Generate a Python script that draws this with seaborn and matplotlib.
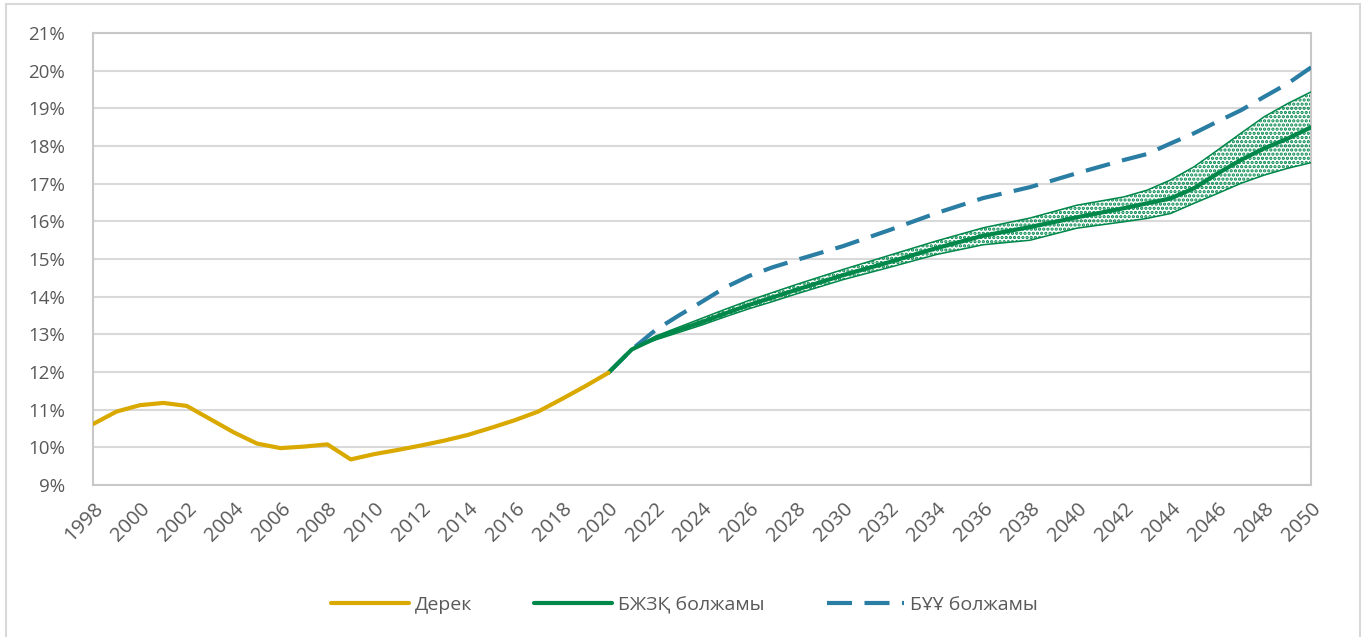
import pandas as pd
import matplotlib.pyplot as plt
import matplotlib.patches as mpatches
import seaborn as sns
from matplotlib.ticker import FuncFormatter

# Colours
COLORS = {
    'fact': '#DAA900',
    'fund': '#00874A',
    'un': '#2A7DA3',
    'grid': '#D9D9D9',
    'text': '#595959',
}

# Historical data (Дерек)
fact_years = list(range(1998, 2021))
fact_vals = [10.62, 10.95, 11.12, 11.18, 11.10, 10.75, 10.40, 10.10, 9.98, 10.02,
             10.08, 9.68, 9.82, 9.93, 10.05, 10.18, 10.33, 10.52, 10.72, 10.95,
             11.28, 11.62, 11.98]

# Forecasts
fc_years = [2020, 2021, 2022, 2023, 2024, 2025, 2026, 2027, 2028, 2030, 2032, 2034, 2036,
            2038, 2040, 2042, 2043, 2044, 2045, 2046, 2047, 2048, 2049, 2050]
fund_mid = [11.98, 12.60, 12.90, 13.12, 13.33, 13.56, 13.78, 13.98, 14.18, 14.57, 14.92,
            15.29, 15.62, 15.85, 16.11, 16.35, 16.48, 16.61, 16.88, 17.27, 17.63, 17.94,
            18.20, 18.50]
fund_hi = [11.98, 12.60, 12.95, 13.19, 13.43, 13.67, 13.90, 14.11, 14.32, 14.72, 15.10,
           15.48, 15.83, 16.09, 16.43, 16.65, 16.83, 17.10, 17.45, 17.89, 18.34, 18.78,
           19.13, 19.44]
fund_lo = [11.98, 12.60, 12.85, 13.05, 13.25, 13.47, 13.68, 13.87, 14.07, 14.45, 14.78,
           15.12, 15.38, 15.50, 15.82, 15.99, 16.08, 16.21, 16.48, 16.74, 17.01, 17.23,
           17.41, 17.56]
un_vals = [11.98, 12.60, 13.11, 13.50, 13.87, 14.25, 14.55, 14.78, 14.97, 15.34, 15.77,
           16.22, 16.62, 16.91, 17.28, 17.63, 17.79, 18.07, 18.34, 18.65, 18.95, 19.31,
           19.66, 20.09]

LABELS = ['Дерек', 'БЖЗҚ болжамы', 'БҰҰ болжамы']

sns.set_theme(style="white")
plt.rcParams['font.family'] = ['Open Sans', 'DejaVu Sans']
plt.rcParams['hatch.linewidth'] = 1.6

fig = plt.figure(figsize=(13.69, 6.37), dpi=100)
ax = fig.add_axes([0.068, 0.2386, 0.8897, 0.7094])

df_fact = pd.DataFrame({'year': fact_years, 'value': fact_vals})
df_fc = pd.DataFrame({'year': fc_years, 'mid': fund_mid, 'hi': fund_hi,
                      'lo': fund_lo, 'un': un_vals})

# uncertainty band with dotted hatch
ax.fill_between(df_fc['year'], df_fc['lo'], df_fc['hi'], facecolor='none',
                edgecolor=COLORS['fund'], hatch='....', linewidth=0, zorder=2)
sns.lineplot(data=df_fc, x='year', y='hi', ax=ax, color=COLORS['fund'], lw=1.1, zorder=3)
sns.lineplot(data=df_fc, x='year', y='lo', ax=ax, color=COLORS['fund'], lw=1.1, zorder=3)

sns.lineplot(data=df_fc, x='year', y='un', ax=ax, color=COLORS['un'], lw=3,
             zorder=4, label=LABELS[2]).lines[-1].set_dashes((6, 3))
sns.lineplot(data=df_fc, x='year', y='mid', ax=ax, color=COLORS['fund'], lw=3,
             zorder=5, label=LABELS[1])
sns.lineplot(data=df_fact, x='year', y='value', ax=ax, color=COLORS['fact'], lw=3,
             zorder=5, label=LABELS[0])

ax.set_xlim(1998, 2050)
ax.set_ylim(9, 21)
ax.set_xlabel('')
ax.set_ylabel('')
ax.set_xticks(range(1998, 2051, 2))
ax.set_xticks(range(2008, 2050, 10), minor=True)
ax.set_yticks(range(9, 22))
ax.yaxis.set_major_formatter(FuncFormatter(lambda v, p: f'{int(v)}%'))
ax.grid(axis='y', which='major', color=COLORS['grid'], lw=1.5)
ax.grid(axis='x', which='minor', color=COLORS['grid'], lw=1.5)
ax.grid(axis='x', which='major', visible=False)
ax.tick_params(axis='both', which='both', length=0, colors=COLORS['text'], labelsize=13.5)
ax.tick_params(axis='y', pad=20)
ax.tick_params(axis='x', pad=10, labelsize=14.5)
for lab in ax.get_xticklabels():
    lab.set_rotation(45)
    lab.set_ha('right')
    lab.set_rotation_mode('anchor')
for s in ax.spines.values():
    s.set_color('#C8C8C8')
    s.set_linewidth(1.5)

# legend in reference order
handles, labels = ax.get_legend_handles_labels()
order = [labels.index(l) for l in LABELS]
ax.legend_.remove()
fig.legend([handles[i] for i in order], [labels[i] for i in order],
           loc='center', bbox_to_anchor=(0.5, 0.05), ncol=3, frameon=False,
           handlelength=4.0, columnspacing=3.2, handletextpad=0.3,
           fontsize=14, labelcolor=COLORS['text'])

# light outer frame like the source image
fig.patches.append(mpatches.Rectangle((6 / 1369, -0.01), 1354 / 1369, 1.0 - 4 / 637 + 0.01,
                                      transform=fig.transFigure, fill=False,
                                      edgecolor='#D9D9D9', lw=1.5))

fig.savefig('out.png', dpi=100)
